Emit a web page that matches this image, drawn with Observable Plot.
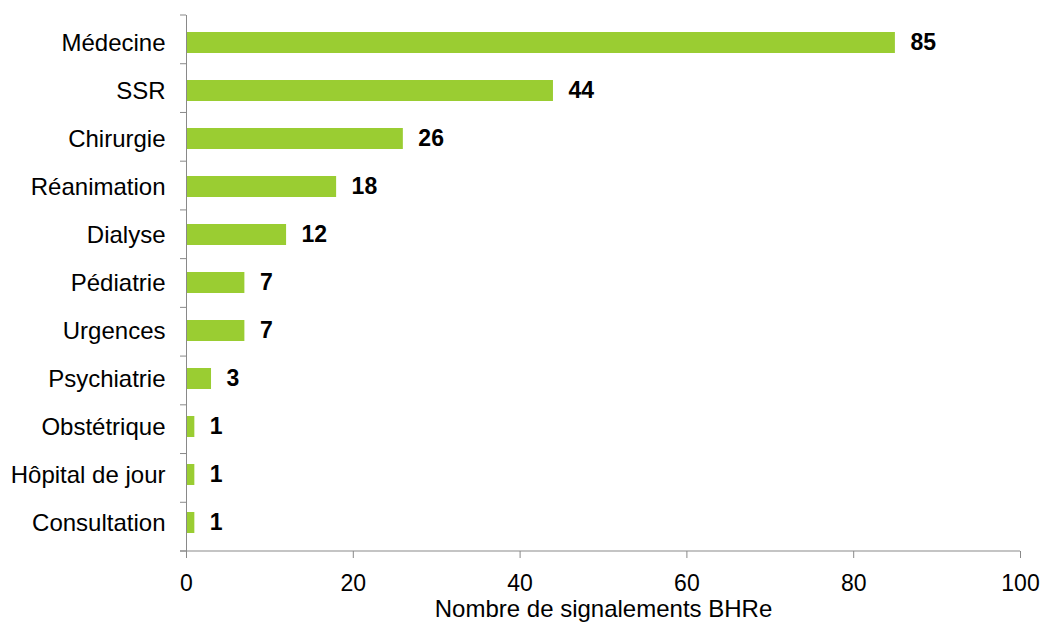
<!DOCTYPE html>
<html><head><meta charset="utf-8">
<script src="https://cdn.jsdelivr.net/npm/d3@7"></script>
<script src="https://cdn.jsdelivr.net/npm/@observablehq/plot@0.6"></script>
<style>body{margin:0;background:#fff;font-family:"Liberation Sans",Arial,sans-serif}</style>
</head><body><div id="chart"></div>
<script>
const categories = ["Médecine","SSR","Chirurgie","Réanimation","Dialyse","Pédiatrie","Urgences","Psychiatrie","Obstétrique","Hôpital de jour","Consultation"];
const values = [85,44,26,18,12,7,7,3,1,1,1];
const xTicks = [0,20,40,60,80,100];
const xLabel = "Nombre de signalements BHRe";

const data = categories.map((c,i)=>({cat:c, v:values[i]}));
const axisColor = "#898989";

const chart = Plot.plot({
  width: 1043, height: 630,
  marginLeft: 186, marginRight: 23, marginTop: 15, marginBottom: 79,
  style: {fontFamily: "'Liberation Sans', Arial, sans-serif", fontSize: "23px", color: "#000", background: "#fff"},
  x: {domain: [0,100], ticks: xTicks, label: null},
  y: {domain: categories, paddingInner: 0.56, paddingOuter: 0.28, label: null},
  marks: [
    Plot.barX(data, {y: "cat", x: "v", fill: "#9ACD32"}),
    Plot.text(data, {y: "cat", x: "v", text: d => String(d.v), textAnchor: "start", dx: 15, fontWeight: "bold", fontSize: 23, fill: "#000"}),
    Plot.axisY({tickSize: 0, tickPadding: 21, fontSize: 24, label: null}),
    Plot.axisX({ticks: xTicks, tickSize: 7, tickPadding: 16, stroke: axisColor, fill: "#000", fontSize: 23, label: null}),
    Plot.ruleX([0], {stroke: axisColor, strokeWidth: 1}),
    (index, scales, values, dimensions) => {
      const g = d3.create("svg:g");
      const top = dimensions.marginTop;
      const bottom = dimensions.height - dimensions.marginBottom;
      const step = (bottom - top) / categories.length;
      const x0 = scales.x(0);
      for (let i = 0; i <= categories.length; i++) {
        const b = top + i * step;
        g.append("line").attr("x1", x0 - 6).attr("x2", x0).attr("y1", b).attr("y2", b)
          .attr("stroke", axisColor);
      }
      g.append("line").attr("x1", x0 - 6).attr("x2", scales.x(100)).attr("y1", bottom).attr("y2", bottom).attr("stroke", axisColor);
      return g.node();
    },
    Plot.text([xLabel], {frameAnchor: "bottom", dy: 65, fontSize: 24, fill: "#000"})
  ]
});
document.getElementById("chart").appendChild(chart);
</script></body></html>
